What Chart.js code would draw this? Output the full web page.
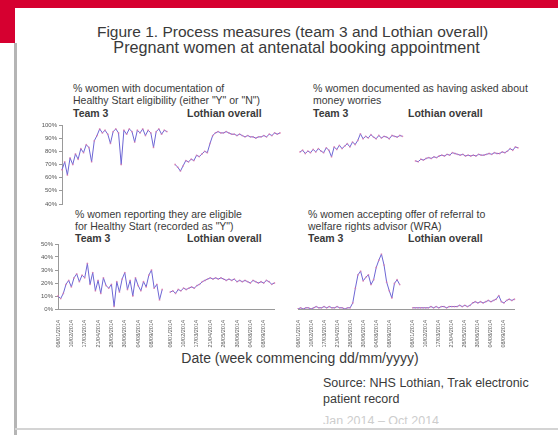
<!DOCTYPE html>
<html>
<head>
<meta charset="utf-8">
<script src="https://cdn.jsdelivr.net/npm/chart.js@4.4.1/dist/chart.umd.min.js"></script>
<style>
  body { margin: 0; width: 558px; height: 435px; background: #fff; position: relative; overflow: hidden;
         font-family: 'Liberation Sans', Arial, sans-serif; color: #3a3a3a; }
  .abs { position: absolute; white-space: nowrap; }
  .band { position: absolute; background: #d60030; }
  .ptitle { font-size: 10.5px; line-height: 12px; }
  .sub { font-size: 10.5px; font-weight: bold; line-height: 12px; }
  canvas { position: absolute; }
</style>
</head>
<body>
<div class="band" style="left:0;top:0;width:558px;height:8px"></div>
<div class="band" style="left:0;top:0;width:15px;height:43px"></div>
<div class="abs" style="left:14px;top:43px;width:3px;height:392px;background:#b5b5b5"></div>
<div class="abs" style="left:15px;top:428px;width:543px;height:2px;background:#d4d4d4"></div>

<div class="abs" style="left:0;width:585px;top:24px;text-align:center;font-size:15.5px;line-height:16px">Figure 1. Process measures (team 3 and Lothian overall)</div>
<div class="abs" style="left:0;width:593px;top:39px;text-align:center;font-size:16.2px;line-height:16px">Pregnant women at antenatal booking appointment</div>

<div class="abs ptitle" style="left:73px;top:82px">% women with documentation of<br>Healthy Start eligibility (either "Y" or "N")</div>
<div class="abs sub" style="left:73px;top:107px">Team 3</div>
<div class="abs sub" style="left:187px;top:107px">Lothian overall</div>

<div class="abs ptitle" style="left:313px;top:82px">% women documented as having asked about<br>money worries</div>
<div class="abs sub" style="left:313px;top:107px">Team 3</div>
<div class="abs sub" style="left:408px;top:107px">Lothian overall</div>

<div class="abs ptitle" style="left:75px;top:208px">% women reporting they are eligible<br>for Healthy Start (recorded as "Y")</div>
<div class="abs sub" style="left:75px;top:232px">Team 3</div>
<div class="abs sub" style="left:187px;top:232px">Lothian overall</div>

<div class="abs ptitle" style="left:308px;top:208px">% women accepting offer of referral to<br>welfare rights advisor (WRA)</div>
<div class="abs sub" style="left:308px;top:232px">Team 3</div>
<div class="abs sub" style="left:408px;top:232px">Lothian overall</div>

<canvas id="docChart" width="248" height="91" style="left:36px;top:119px"></canvas>
<canvas id="moneyChart" width="226" height="90" style="left:296px;top:120px"></canvas>
<canvas id="eligibleChart" width="252" height="111" style="left:32px;top:238px"></canvas>
<canvas id="wraChart" width="230" height="105" style="left:294px;top:244px"></canvas>

<div class="abs" style="left:0;width:600px;top:351px;text-align:center;font-size:14px;line-height:15px">Date (week commencing dd/mm/yyyy)</div>
<div class="abs" style="left:323px;top:375px;font-size:12.5px;line-height:16px">Source: NHS Lothian, Trak electronic<br>patient record</div>
<div class="abs" style="left:323px;top:413px;height:11px;overflow:hidden;font-size:12.5px;line-height:16px;color:#cdcdcd">Jan 2014 – Oct 2014</div>

<script>
// weeks commencing, shared by Team 3 and Lothian panels
const weeks = ['06/01/2014', '13/01/2014', '20/01/2014', '27/01/2014', '03/02/2014', '10/02/2014', '17/02/2014', '24/02/2014',
  '03/03/2014', '10/03/2014', '17/03/2014', '24/03/2014', '31/03/2014', '07/04/2014', '14/04/2014', '21/04/2014',
  '28/04/2014', '05/05/2014', '12/05/2014', '19/05/2014', '26/05/2014', '02/06/2014', '09/06/2014', '16/06/2014',
  '23/06/2014', '30/06/2014', '07/07/2014', '14/07/2014', '21/07/2014', '28/07/2014', '04/08/2014', '11/08/2014',
  '18/08/2014', '25/08/2014', '01/09/2014', '08/09/2014', '15/09/2014', '22/09/2014', '29/09/2014', '06/10/2014'];

// % with Healthy Start eligibility documented
const docTeam3 = [66, 72, 62, 75, 70, 78, 74, 82, 79, 85, 83, 72, 88, 92, 97, 94, 96, 93, 86, 95,
  97, 94, 70, 96, 93, 97, 95, 87, 96, 94, 97, 92, 96, 94, 83, 95, 97, 93, 96, 95];
const docLothian = [70, 68, 65, 69, 73, 72, 74, 73, 77, 76, 78, 80, 79, 86, 92, 94, 95, 94, 94, 95,
  94, 93, 93, 92, 93, 92, 91, 92, 91, 91, 90, 91, 91, 92, 91, 93, 92, 94, 93, 94];

// % asked about money worries
const moneyTeam3 = [66, 68, 64, 67, 65, 69, 66, 70, 67, 65, 71, 68, 60, 72, 69, 74, 70, 73, 76, 72,
  78, 75, 80, 88, 82, 85, 83, 87, 84, 82, 86, 83, 85, 84, 82, 86, 85, 84, 86, 85];
const moneyLothian = [55, 54, 57, 56, 58, 59, 58, 60, 59, 61, 62, 61, 63, 62, 65, 64, 63, 62, 63, 61,
  62, 61, 62, 61, 63, 62, 62, 63, 64, 63, 65, 64, 64, 66, 65, 67, 70, 68, 72, 71];

// % reporting Healthy Start eligible ("Y")
const eligibleTeam3 = [10, 8, 12, 19, 22, 17, 24, 27, 21, 26, 24, 35, 19, 28, 14, 22, 12, 24, 18, 16,
  19, 2, 21, 13, 23, 28, 15, 22, 10, 24, 18, 14, 21, 17, 26, 30, 16, 19, 7, 15];
const eligibleLothian = [13, 14, 12, 15, 14, 16, 15, 16, 17, 16, 18, 19, 21, 22, 23, 24, 23, 24, 23, 24,
  23, 22, 23, 22, 23, 21, 22, 21, 22, 21, 20, 22, 21, 20, 21, 20, 22, 21, 19, 20];

// % accepting referral to welfare rights advisor
const wraTeam3 = [0, 1, 0, 1, 1, 0, 1, 2, 1, 1, 2, 1, 2, 1, 1, 2, 1, 1, 0, 1,
  1, 5, 17, 28, 31, 23, 26, 28, 20, 24, 34, 40, 45, 36, 22, 15, 9, 21, 24, 20];
const wraLothian = [1, 1, 1, 1, 1, 1, 1, 2, 1, 2, 1, 2, 2, 1, 2, 2, 2, 2, 3, 2,
  3, 2, 3, 5, 6, 5, 6, 5, 6, 7, 6, 7, 8, 11, 6, 5, 7, 8, 7, 8];

const docTicks = [40, 100];
const eligibleTicks = [0, 50];

Chart.defaults.font.family = "'Liberation Sans', Arial, sans-serif";

function seriesStyle(values) {
  return {
    data: values,
    borderColor: '#6d66d4',
    borderWidth: 1,
    pointRadius: 0.9,
    pointBorderWidth: 0,
    pointBackgroundColor: 'rgba(222,120,170,0.75)',
    tension: 0
  };
}

// two runs (Team 3, Lothian) side by side on one category axis, split by a few empty weeks
function makePanel(id, team3, lothian, gap, range, opts) {
  const blanks = new Array(gap).fill(null);
  const empty = new Array(weeks.length).fill(null);
  const labels = weeks.concat(blanks.map(() => ''), weeks);

  new Chart(document.getElementById(id), {
    type: 'line',
    data: {
      labels: labels,
      datasets: [
        seriesStyle(team3.concat(blanks, empty)),
        seriesStyle(empty.concat(blanks, lothian))
      ]
    },
    options: {
      responsive: false,
      animation: false,
      events: [],
      layout: { padding: opts.padding },
      plugins: { legend: { display: false }, tooltip: { enabled: false } },
      scales: {
        x: {
          display: opts.dates,
          afterFit: s => { if (opts.dates) s.height = 40; },
          grid: { display: false },
          border: { display: true, color: '#9a9a9a', width: 1 },
          ticks: {
            autoSkip: false,
            minRotation: 90,
            maxRotation: 90,
            padding: 3,
            color: '#555',
            font: { size: 5.5 },
            callback: (value, index) => {
              const k = index < weeks.length ? index : index - weeks.length - gap;
              return k >= 0 && k % 5 === 0 ? labels[index] : '';
            }
          }
        },
        y: {
          display: opts.axis,
          min: range[0],
          max: range[1],
          afterFit: s => { if (opts.axis) s.width = 26; },
          grid: { drawOnChartArea: false, drawTicks: true, tickLength: 3, color: '#9a9a9a' },
          border: { display: true, color: '#9a9a9a', width: 1 },
          ticks: {
            autoSkip: false,
            stepSize: 10,
            padding: 2,
            color: '#555',
            font: { size: 6 },
            callback: v => v + '%'
          }
        }
      }
    }
  });
}

makePanel('docChart', docTeam3, docLothian, 2, docTicks,
  { axis: true, dates: false, padding: { top: 6, bottom: 6, left: 0, right: 1 } });
makePanel('moneyChart', moneyTeam3, moneyLothian, 4, [0, 100],
  { axis: false, dates: false, padding: { top: 0, bottom: 0, left: 1, right: 0 } });
makePanel('eligibleChart', eligibleTeam3, eligibleLothian, 2, eligibleTicks,
  { axis: true, dates: true, padding: { top: 6, bottom: 0, left: 0, right: 1 } });
makePanel('wraChart', wraTeam3, wraLothian, 4, [0, 50],
  { axis: false, dates: true, padding: { top: 0, bottom: 0, left: 4, right: 2 } });
</script>
</body>
</html>
